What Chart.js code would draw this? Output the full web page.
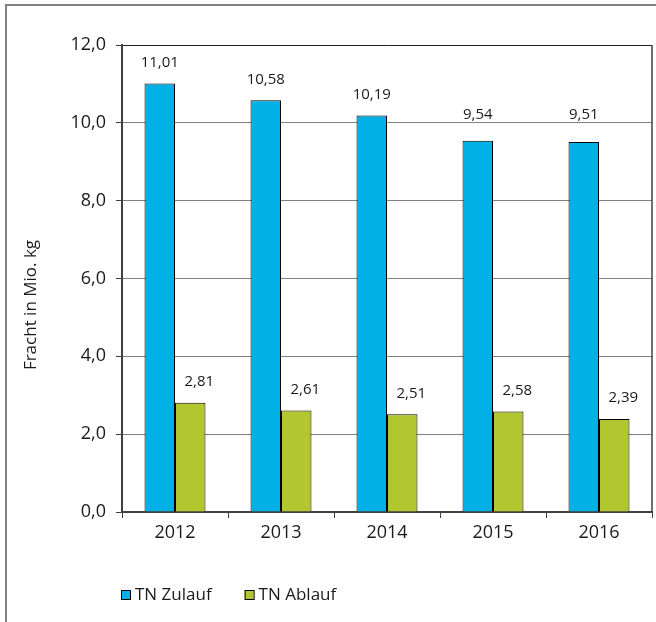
<!DOCTYPE html>
<html lang="de">
<head>
<meta charset="utf-8">
<title>Fracht TN</title>
<script src="https://cdn.jsdelivr.net/npm/chart.js@4.4.1/dist/chart.umd.min.js"></script>
<style>
  html, body { margin: 0; padding: 0; background: #fff; }
  canvas { display: block; }
</style>
</head>
<body>
<canvas id="frachtChart" width="656" height="622"></canvas>
<script>
// Jahre und Frachten (Mio. kg)
const jahre = ['2012', '2013', '2014', '2015', '2016'];
const tnZulauf = [11.01, 10.58, 10.19, 9.54, 9.51];
const tnAblauf = [2.81, 2.61, 2.51, 2.58, 2.39];
const yTicks = [0, 2, 4, 6, 8, 10, 12];

const FONT = '"Open Sans", "Noto Sans", sans-serif';
const TEXT = '#1a1a1a';
const BLAU = '#00b0e6';
const GRUEN = '#b2c630';

const komma = (v, n) => v.toFixed(n).replace('.', ',');

// Rahmen, Achsentitel, Legende und Wertbeschriftungen
const extras = {
    id: 'extras',
    beforeDraw(chart) {
        const c = chart.ctx;
        c.save();
        c.fillStyle = '#fff';
        c.fillRect(0, 0, chart.width, chart.height);
        c.strokeStyle = '#808080';
        c.lineWidth = 2;
        c.beginPath();
        c.moveTo(6, chart.height);
        c.lineTo(6, 5);
        c.lineTo(chart.width, 5);
        c.stroke();
        c.restore();
    },
    afterDatasetsDraw(chart) {
        const c = chart.ctx;
        const area = chart.chartArea;
        const y = chart.scales.y;
        c.save();
        // rechter Rand der Zeichenfläche
        c.strokeStyle = '#404040';
        c.lineWidth = 1.5;
        c.beginPath();
        c.moveTo(area.right, area.top);
        c.lineTo(area.right, area.bottom);
        c.stroke();

        c.font = '15px ' + FONT;
        c.fillStyle = TEXT;
        c.textAlign = 'center';
        c.textBaseline = 'middle';
        const gridPx = yTicks.map(v => y.getPixelForValue(v));
        chart.data.datasets.forEach((ds, i) => {
            const meta = chart.getDatasetMeta(i);
            meta.data.forEach((bar, j) => {
                let ly = bar.y - 21;
                // nicht auf einer Gitterlinie liegen lassen
                gridPx.forEach(g => {
                    if (ly + 7 > g && ly - 7 < g) ly = g - 8;
                });
                const dx = i === 1 ? 9 : 0;
                c.fillText(komma(ds.data[j], 2), bar.x + dx, ly);
            });
        });
        c.restore();
    },
    afterDraw(chart) {
        const c = chart.ctx;
        c.save();
        c.fillStyle = TEXT;
        c.font = '17px ' + FONT;
        c.textAlign = 'center';
        c.textBaseline = 'middle';
        c.translate(31, 305);
        c.rotate(-Math.PI / 2);
        c.fillText('Fracht in Mio. kg', 0, 0);
        c.restore();

        // Legende
        c.save();
        c.font = '17px ' + FONT;
        c.textBaseline = 'middle';
        c.textAlign = 'left';
        let x = 121;
        const ly = 595;
        chart.data.datasets.forEach(ds => {
            c.fillStyle = ds.backgroundColor;
            c.fillRect(x, ly - 5, 9, 9);
            c.strokeStyle = '#000';
            c.lineWidth = 1;
            c.strokeRect(x + 0.5, ly - 4.5, 9, 9);
            c.fillStyle = TEXT;
            c.fillText(ds.label, x + 14, ly);
            x += 14 + c.measureText(ds.label).width + 33;
        });
        c.restore();
    }
};

const ctx = document.getElementById('frachtChart').getContext('2d');
new Chart(ctx, {
    type: 'bar',
    data: {
        labels: jahre,
        datasets: [
            { label: 'TN Zulauf', data: tnZulauf, backgroundColor: BLAU, borderColor: '#000', borderWidth: 1 },
            { label: 'TN Ablauf', data: tnAblauf, backgroundColor: GRUEN, borderColor: '#000', borderWidth: 1 }
        ]
    },
    options: {
        responsive: false,
        animation: false,
        layout: { padding: { top: 45, right: 4, left: 0, bottom: 0 } },
        datasets: { bar: { barPercentage: 1, categoryPercentage: 0.575 } },
        plugins: { legend: { display: false }, tooltip: { enabled: false } },
        scales: {
            x: {
                grid: { drawOnChartArea: false, drawTicks: true, tickLength: 6, color: '#404040', offset: true },
                border: { color: '#404040', width: 2 },
                ticks: { color: TEXT, font: { family: FONT, size: 18 }, padding: 4 },
                afterFit: s => { s.height = 110; }
            },
            y: {
                min: 0,
                max: 12,
                afterBuildTicks: s => { s.ticks = yTicks.map(v => ({ value: v })); },
                grid: {
                    color: c => c.tick && c.tick.value === 12 ? '#202020' : '#808080',
                    tickColor: '#404040',
                    tickLength: 6
                },
                border: { color: '#404040', width: 2 },
                ticks: {
                    color: TEXT,
                    font: { family: FONT, size: 18 },
                    padding: 10,
                    callback: v => komma(v, 1)
                },
                afterFit: s => { s.width = 122; }
            }
        }
    },
    plugins: [extras]
});
</script>
</body>
</html>
